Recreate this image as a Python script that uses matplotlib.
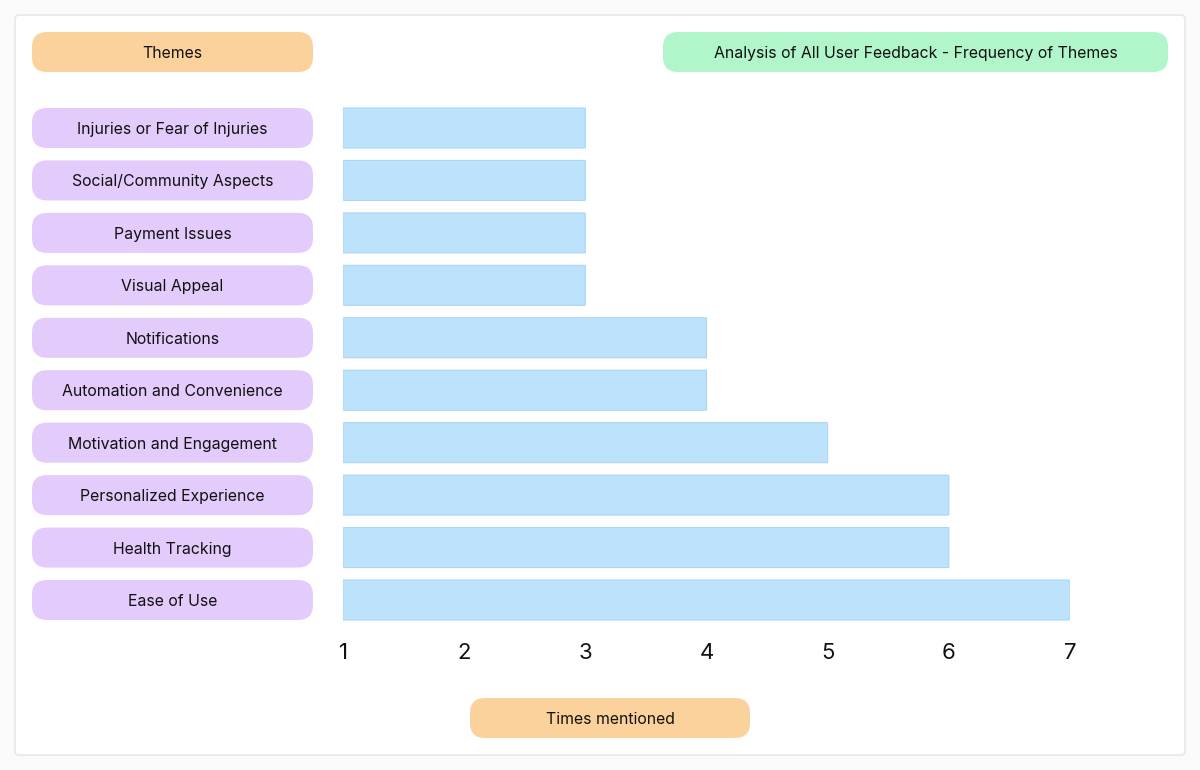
import matplotlib
matplotlib.use("Agg")
import matplotlib.pyplot as plt
from matplotlib.patches import FancyBboxPatch

plt.rcParams['font.family'] = ['Inter', 'DejaVu Sans']

# ---- data ----
themes = [
    "Ease of Use",
    "Health Tracking",
    "Personalized Experience",
    "Motivation and Engagement",
    "Automation and Convenience",
    "Notifications",
    "Visual Appeal",
    "Payment Issues",
    "Social/Community Aspects",
    "Injuries or Fear of Injuries",
]
counts = [7, 6, 6, 5, 4, 4, 3, 3, 3, 3]
x_ticks = [1, 2, 3, 4, 5, 6, 7]
x_tick_labels = ["1", "2", "3", "4", "5", "6", "7"]
title = "Analysis of All User Feedback - Frequency of Themes"
y_title = "Themes"
x_title = "Times mentioned"

# ---- style ----
W, H = 1200, 770
PURPLE = "#e3cbfc"
ORANGE = "#fcd29c"
GREEN = "#b1f5cb"
BAR = "#bde2fb"
BAR_EDGE = "#a9d6f7"
TEXT = "#111111"
FS = 11.4

fig = plt.figure(figsize=(W / 100, H / 100), dpi=100)
fig.patch.set_facecolor("#fafafa")

# overlay axes in pixel coordinates for decorative boxes
ov = fig.add_axes([0, 0, 1, 1])
ov.set_xlim(0, W)
ov.set_ylim(H, 0)
ov.axis("off")
ov.set_zorder(0)

# card
ov.add_patch(FancyBboxPatch((15, 15), 1170, 740, boxstyle="round,pad=0,rounding_size=4",
                            facecolor="white", edgecolor="#e8e8e8", linewidth=1.2))

def pill(x0, y0, w, h, color, text, size=FS):
    ov.add_patch(FancyBboxPatch((x0, y0), w, h, boxstyle="round,pad=0,rounding_size=15",
                                facecolor=color, edgecolor="none", zorder=2))
    ov.text(x0 + w / 2, y0 + h / 2 + 1.5, text, ha="center", va="center", fontsize=size,
            color=TEXT, zorder=3)

pill(32, 32, 281, 40, ORANGE, y_title)
pill(663, 32, 505, 40, GREEN, title)
pill(470, 698, 280, 40, ORANGE, x_title)

# bar axes: 1 -> px 343, 7 -> px 1070 ; rows centred 600 (bottom) .. 128 (top)
x_left_px, x_right_px = 343, 1070
row_bot, row_top = 600, 128
step = (row_bot - row_top) / (len(themes) - 1)
ax_bottom_px = row_bot + step / 2
ax_top_px = row_top - step / 2
ax = fig.add_axes([x_left_px / W, 1 - ax_bottom_px / H,
                   (x_right_px - x_left_px) / W, (ax_bottom_px - ax_top_px) / H])
ax.patch.set_alpha(0)
ax.set_zorder(1)
ax.set_xlim(1, 7)
ax.set_ylim(-0.5, len(themes) - 0.5)

bar_h = 40 / step
ypos = list(range(len(themes)))
for i, v in zip(ypos, counts):
    ax.add_patch(FancyBboxPatch((1, i - bar_h / 2), v - 1, bar_h,
                                boxstyle="round,pad=0,rounding_size=0.015",
                                mutation_aspect=step / ((x_right_px - x_left_px) / 6),
                                facecolor=BAR, edgecolor=BAR_EDGE, linewidth=0.8))

ax.set_xticks(x_ticks)
ax.set_xticklabels(x_tick_labels, fontsize=16, color=TEXT)
ax.tick_params(axis="x", length=0, pad=12)
ax.set_yticks([])
for s in ax.spines.values():
    s.set_visible(False)

# row label pills, positioned from the bar axes' category scale
fig.canvas.draw()
inv = ov.transData.inverted()
for i, name in zip(ypos, themes):
    disp = ax.transData.transform((1, i))
    _, yc = inv.transform(disp)
    pill(32, yc - 20, 281, 40, PURPLE, name)

fig.savefig("out.png", dpi=100, facecolor=fig.get_facecolor())
